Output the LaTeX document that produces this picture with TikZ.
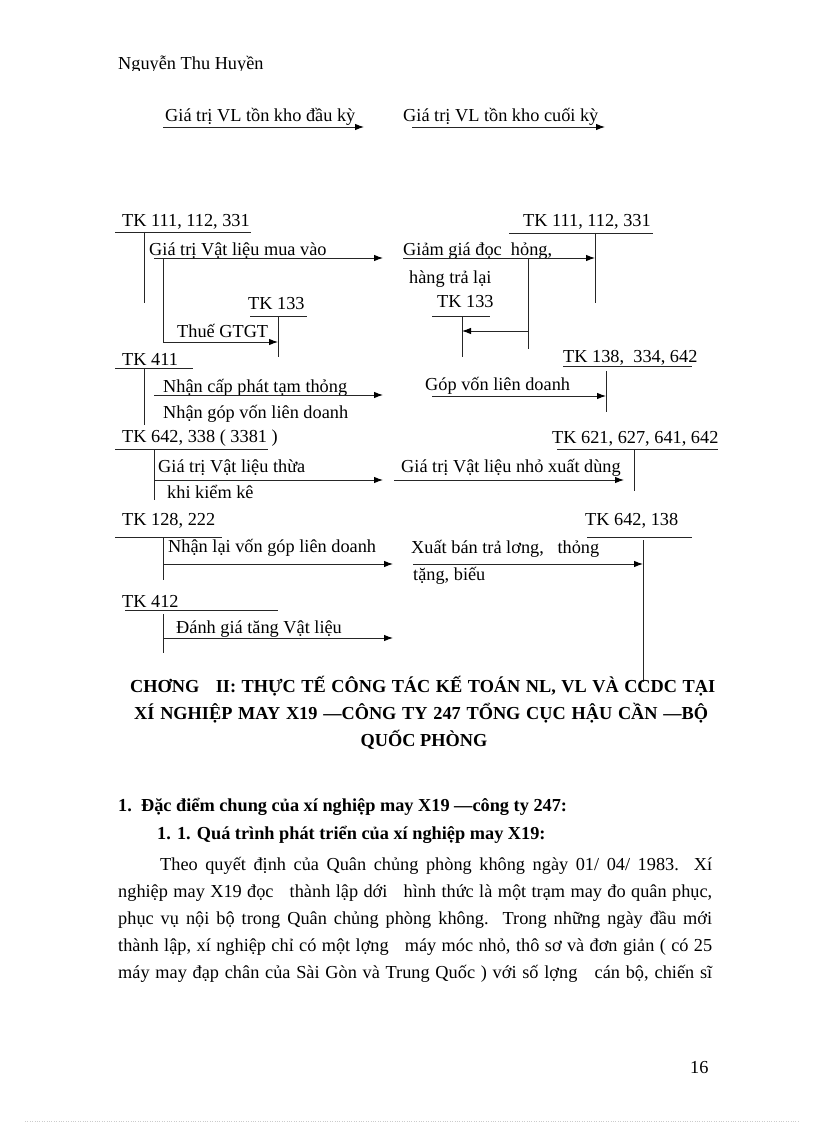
\documentclass[tikz,border=0pt]{standalone}
\usepackage{fontspec}
\setmainfont{Liberation Serif}
\usetikzlibrary{arrows.meta}
\def\tkbar(#1:#2:#3)(#4:#5:#6){\draw[acct] (#1,#3) -- (#2,#3); \draw[acct] (#4,#5) -- (#4,#6);}

\begin{document}
\begin{tikzpicture}[x=1pt, y=-1pt,
		acct/.style={line width=0.9pt, color=black!85},
		flow/.style={line width=0.9pt, color=black!85, -{Latex[length=9pt,width=6.5pt,color=black]}},
		lbl/.style={anchor=base west, inner sep=0pt, font=\fontsize{18.3}{22}\selectfont},
		hd/.style={anchor=base west, inner sep=0pt, font=\fontsize{18.3}{22}\selectfont\bfseries}]
		%%%%% START %%%%%
		
		\useasboundingbox[fill=white] (0,0) rectangle (816,1123);
		
		\begin{scope}
			\clip (100,40) rectangle (300,71);
			\node[lbl] (author) at (118,70) {Nguyễn Thu Huyền};
		\end{scope}
		
		\node[lbl] (tondau) at (165,122) {Giá trị VL tồn kho đầu kỳ};
		\node[lbl] (toncuoi) at (403,122) {Giá trị VL tồn kho cuối kỳ};
		\coordinate (td1) at (163,127); \coordinate (td2) at (364,127);
		\coordinate (tc1) at (412,127); \coordinate (tc2) at (605,127);
		\draw[flow] (td1) -- (td2);
		\draw[flow] (tc1) -- (tc2);
		
		% left column
		\node[lbl] (tk111) at (122,227) {TK 111, 112, 331};
		\tkbar(115:251:232)(144:232:303)
		\node[lbl] (muavao) at (149,255) {Giá trị Vật liệu mua vào};
		\coordinate (mv1) at (154,258); \coordinate (mv2) at (383,258);
		\draw[flow] (mv1) -- (mv2);
		
		\node[lbl] (tk133) at (248,309) {TK 133};
		\tkbar(250:307:316)(278:316:357)
		\node[lbl] (thue) at (177,337) {Thuế GTGT};
		\coordinate (th1) at (163,258); \coordinate (th2) at (278,342);
		\draw[flow] (th1) |- (th2);
		
		\node[lbl] (tk411) at (122,365) {TK 411};
		\tkbar(115:193:368)(144:368:425)
		\node[lbl] (capphat) at (163,392) {Nhận cấp phát tạm thỏng};
		\node[lbl] (gopvon) at (163,418) {Nhận góp vốn liên doanh};
		\coordinate (cp1) at (154,395); \coordinate (cp2) at (383,395);
		\draw[flow] (cp1) -- (cp2);
		
		\node[lbl] (tk642) at (122,442) {TK 642, 338 ( 3381 )};
		\tkbar(115:268:449)(154:449:500)
		\node[lbl] (thua) at (158,472) {Giá trị Vật liệu thừa};
		\node[lbl] (kiemke) at (167,498) {khi kiểm kê};
		\coordinate (vt1) at (155,480); \coordinate (vt2) at (383,480);
		\draw[flow] (vt1) -- (vt2);
		
		\node[lbl] (tk128) at (122,525) {TK 128, 222};
		\tkbar(115:222:537)(163:537:580)
		\node[lbl] (nhanlai) at (168,552) {Nhận lại vốn góp liên doanh};
		\coordinate (nl1) at (163,564); \coordinate (nl2) at (393,564);
		\draw[flow] (nl1) -- (nl2);
		
		\node[lbl] (tk412) at (122,607) {TK 412};
		\tkbar(125:278:610)(163:614:653)
		\node[lbl] (danhgia) at (176,633) {Đánh giá tăng Vật liệu};
		\coordinate (dg1) at (163,638); \coordinate (dg2) at (393,638);
		\draw[flow] (dg1) -- (dg2);
		
		% right column
		\node[lbl] (tk111r) at (523,227) {TK 111, 112, 331};
		\tkbar(509:653:233)(595:233:303)
		\node[lbl] (giamgia) at (403,255) {Giảm giá đọc\ \ hỏng,};
		\node[lbl] (tralai) at (409,283) {hàng trả lại};
		\coordinate (gg1) at (403,258); \coordinate (gg2) at (595,258);
		\draw[flow] (gg1) -- (gg2);
		
		\node[lbl] (tk133r) at (437,307) {TK 133};
		\tkbar(432:490:316)(462:316:357)
		\draw[acct] (528,258) -- (528,349);
		\coordinate (gt1) at (528,331); \coordinate (gt2) at (462,331);
		\draw[flow] (gt1) -- (gt2);
		
		\node[lbl] (tk138) at (563,362) {TK 138,\ \ 334, 642};
		\tkbar(563:692:366)(606:371:412)
		\node[lbl] (gopld) at (425,390) {Góp vốn liên doanh};
		\coordinate (gl1) at (432,396); \coordinate (gl2) at (606,396);
		\draw[flow] (gl1) -- (gl2);
		
		\node[lbl] (tk621) at (552,443) {TK 621, 627, 641, 642};
		\tkbar(557:718:449)(634:449:491)
		\node[lbl] (xuatdung) at (401,472) {Giá trị Vật liệu nhỏ xuất dùng};
		\coordinate (xd1) at (394,480); \coordinate (xd2) at (624,480);
		\draw[flow] (xd1) -- (xd2);
		
		\node[lbl] (tk642r) at (585,525) {TK 642, 138};
		\tkbar(587:692:537)(643:540:682)
		\node[lbl] (xuatban) at (411,553) {Xuất bán trả lơng,\ \ \ thỏng};
		\node[lbl] (bieu) at (413,580) {tặng, biếu};
		\coordinate (xb1) at (413,564); \coordinate (xb2) at (643,564);
		\draw[flow] (xb1) -- (xb2);
		
		% chapter heading
		\node[hd] (chuong1) at (130,692) {\makebox[585pt][s]{CHƠNG\ \ \ II: THỰC TẾ CÔNG TÁC KẾ TOÁN NL, VL VÀ CCDC TẠI}};
		\node[hd] (chuong2) at (134,719) {\makebox[574pt][s]{XÍ NGHIỆP MAY X19 —CÔNG TY 247 TỔNG CỤC HẬU CẦN —BỘ}};
		\node[hd, anchor=base] (chuong3) at (424,746) {QUỐC PHÒNG};
		
		\node[hd] (muc1) at (118,811) {1.\ \ Đặc điểm chung của xí nghiệp may X19 —công ty 247:};
		\node[hd] (muc11) at (157,839) {1. 1. Quá trình phát triển của xí nghiệp may X19:};
		
		\node[lbl] (doan1) at (160,870) {\makebox[552pt][s]{Theo quyết định của Quân chủng phòng không ngày 01/ 04/ 1983. Xí}};
		\node[lbl] (doan2) at (118,897) {\makebox[594pt][s]{nghiệp may X19 đọc\ \ \ thành lập dới\ \ \ hình thức là một trạm may đo quân phục,}};
		\node[lbl] (doan3) at (118,924) {\makebox[594pt][s]{phục vụ nội bộ trong Quân chủng phòng không.\ \ Trong những ngày đầu mới}};
		\node[lbl] (doan4) at (118,951) {\makebox[594pt][s]{thành lập, xí nghiệp chỉ có một lợng\ \ \ máy móc nhỏ, thô sơ và đơn giản ( có 25}};
		\node[lbl] (doan5) at (118,978) {\makebox[594pt][s]{máy may đạp chân của Sài Gòn và Trung Quốc ) với số lợng\ \ \ cán bộ, chiến sĩ}};
		
		\node[lbl] (trang) at (690,1073) {16};
		
		\draw[dotted, color=black!20] (25,1121) -- (800,1121);
		
		%%%%% END %%%%%
\end{tikzpicture}
\end{document}
